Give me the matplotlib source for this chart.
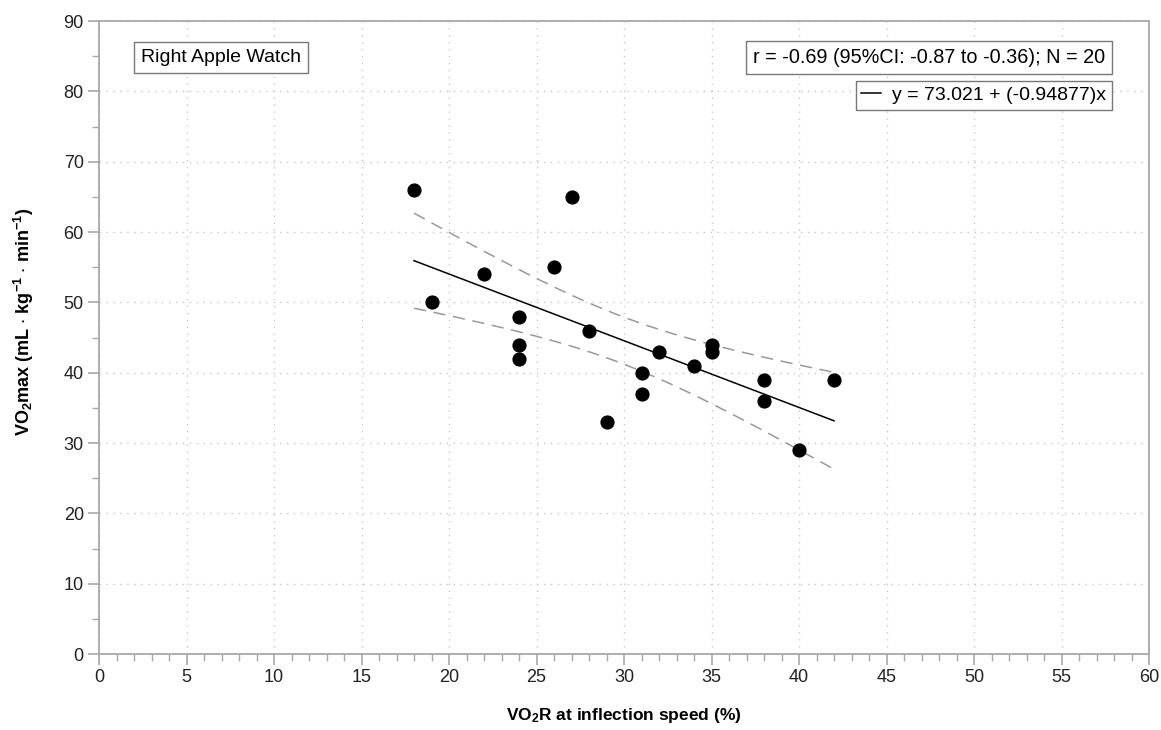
import numpy as np
import matplotlib.pyplot as plt
from matplotlib.ticker import MultipleLocator

plt.rcParams['font.family'] = ['Liberation Sans', 'DejaVu Sans']
plt.rcParams['mathtext.default'] = 'regular'

# 数据
x_vals = [18, 19, 22, 24, 24, 24, 26, 27, 28, 29, 31, 31, 32, 34, 35, 35, 38, 38, 40, 42]
y_vals = [66, 50, 54, 48, 44, 42, 55, 65, 46, 33, 40, 37, 43, 41, 44, 43, 39, 36, 29, 39]
title_text = 'Right Apple Watch'
stats_text = 'r = -0.69 (95%CI: -0.87 to -0.36); N = 20'
fit_label = 'y = 73.021 + (-0.94877)x'

x = np.array(x_vals, dtype=float)
y = np.array(y_vals, dtype=float)
n = len(x)

# 线性回归和95%置信带
slope, intercept = np.polyfit(x, y, 1)
xs = np.linspace(x.min(), x.max(), 100)
ys = intercept + slope * xs
resid = y - (intercept + slope * x)
s = np.sqrt(np.sum(resid ** 2) / (n - 2))
t_crit = 2.1009  # t(0.975, 18)
se = s * np.sqrt(1 / n + (xs - x.mean()) ** 2 / np.sum((x - x.mean()) ** 2))
upper = ys + t_crit * se
lower = ys - t_crit * se

fig = plt.figure(figsize=(11.61, 7.30), dpi=100)
ax = fig.add_axes([0.0853, 0.104, 0.9044, 0.867])

gray = '#a8a8a8'
ax.plot(xs, upper, color='#999999', lw=1.1, ls=(0, (8, 5)))
ax.plot(xs, lower, color='#999999', lw=1.1, ls=(0, (8, 5)))
line, = ax.plot(xs, ys, color='black', lw=1.1, label=fit_label)
ax.scatter(x, y, s=85, color='black', zorder=3)

ax.set_xlim(0, 60)
ax.set_ylim(0, 90)
ax.xaxis.set_major_locator(MultipleLocator(5))
ax.xaxis.set_minor_locator(MultipleLocator(1))
ax.yaxis.set_major_locator(MultipleLocator(10))
ax.yaxis.set_minor_locator(MultipleLocator(5))
ax.grid(True, which='major', color='#c8c8c8', ls=(0, (1, 4)), lw=1)
ax.set_axisbelow(True)

for sp in ax.spines.values():
    sp.set_color(gray)
    sp.set_linewidth(1.3)
ax.tick_params(which='both', direction='out', color=gray, labelsize=13, labelcolor='#222222')
ax.tick_params(which='major', length=8, width=1.2, pad=3)
ax.tick_params(which='minor', length=5, width=1.0)

ax.set_xlabel('VO$_2$R at inflection speed (%)', fontsize=12.5, fontweight='bold', labelpad=14)
ax.set_ylabel('VO$_2$max (mL $\\cdot$ kg$^{-1}$ $\\cdot$ min$^{-1}$)', fontsize=13,
              fontweight='bold')
ax.yaxis.set_label_coords(-0.060, 0.524)

box = dict(boxstyle='square,pad=0.35', facecolor='white', edgecolor='#777777', lw=1)
ax.text(0.040, 0.943, title_text, transform=ax.transAxes, fontsize=14,
        ha='left', va='center', bbox=box)
ax.text(0.958, 0.943, stats_text, transform=ax.transAxes, fontsize=14.3,
        ha='right', va='center', bbox=box)

leg = ax.legend(handles=[line], loc='upper right', bbox_to_anchor=(0.965, 0.906),
                fontsize=14, handlelength=1.0, handletextpad=0.6, borderpad=0.3,
                fancybox=False, framealpha=1, edgecolor='#777777', borderaxespad=0)
leg.get_frame().set_linewidth(1)

fig.savefig('out.png', dpi=100)
